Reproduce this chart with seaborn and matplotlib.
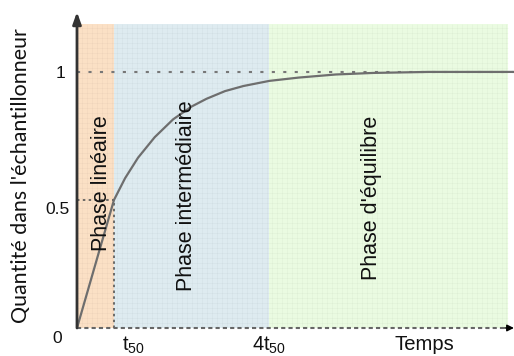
import matplotlib
matplotlib.use('Agg')
import matplotlib.pyplot as plt
import matplotlib.transforms as mtransforms
import seaborn as sns
import numpy as np

# Data (time in units where t50 = 1)
time = [0, 1.0, 1.3, 1.65, 2.1, 2.6, 3.1, 3.5, 4.0, 4.5, 5.2, 6.0, 7.0, 8.0, 9.5, 11.8]
quantity = [0, 0.5, 0.585, 0.665, 0.745, 0.815, 0.865, 0.895, 0.925, 0.945, 0.965, 0.978, 0.99, 0.996, 1.0, 1.0]
phase_edges = [0, 1.0, 5.2, 11.65]
phase_names = ['Phase linéaire', 'Phase intermédiaire', "Phase d'équilibre"]
phase_colors = ['#fbe0c5', '#deebf0', '#eafbe1']
xtick_pos = [1.0, 5.2]
xtick_labels = ['$t_{50}$', '$4t_{50}$']
ytick_pos = [0, 0.5, 1]
ytick_labels = ['0', '0.5', '1']

sns.set_style('white')
plt.rcParams['font.family'] = ['Liberation Sans', 'DejaVu Sans']
plt.rcParams['mathtext.default'] = 'regular'

fig = plt.figure(figsize=(5.14, 3.56), dpi=100)
ax = fig.add_axes([0.1498, 0.0787, 0.850, 0.8876])
xmax, ymax, shade_top = 11.81, 1.234, 1.1875
ax.set_xlim(0, xmax)
ax.set_ylim(0, ymax)
for s in ax.spines.values():
    s.set_visible(False)

# shaded phases
for i in range(len(phase_names)):
    ax.axvspan(phase_edges[i], phase_edges[i + 1], ymin=0, ymax=shade_top / ymax,
               color=phase_colors[i], lw=0, zorder=0)

# faint graph-paper grid inside the shaded area
ax.vlines(np.arange(0, phase_edges[-1], 0.135), 0, shade_top, color='k', alpha=0.035, lw=0.5, zorder=0.5)
ax.hlines(np.arange(0, shade_top, 0.0195), 0, phase_edges[-1], color='k', alpha=0.035, lw=0.5, zorder=0.5)

# reference lines
t50, half = xtick_pos[0], ytick_pos[1]
ax.axhline(1, ls=(0, (1.5, 4)), color='#777777', lw=1.5, zorder=1)
ax.hlines(half, 0, t50, ls=(0, (1.5, 2)), color='#555555', lw=1.2, zorder=1)
ax.vlines(t50, 0, half, ls=(0, (1.5, 2)), color='#555555', lw=1.2, zorder=1)

# curve
sns.lineplot(x=time, y=quantity, ax=ax, color='#6e6e6e', lw=1.6, zorder=3)

# axes with arrows
ax.plot([0, xmax], [0, 0], ls=(0, (2, 1.5)), color='#666666', lw=1.5, clip_on=False, zorder=2)
ax.annotate('', xy=(xmax, 0), xytext=(xmax - 0.25, 0), annotation_clip=False,
            arrowprops=dict(arrowstyle='-|>,head_length=0.4,head_width=0.2', color='black',
                            lw=1, shrinkA=0, shrinkB=0))
ax.annotate('', xy=(0, ymax), xytext=(0, 0), annotation_clip=False,
            arrowprops=dict(arrowstyle='-|>,head_length=0.7,head_width=0.25', color='#333333',
                            lw=2, shrinkA=0, shrinkB=0), zorder=4)

# phase labels
label_x = [0.65, 2.97, 7.97]
label_y = [0.564, 0.516, 0.508]
for name, lx, ly in zip(phase_names, label_x, label_y):
    ax.text(lx, ly, name, rotation=90, ha='center', va='center', fontsize=15.5, color='#111111', zorder=4)

# ticks
ax.set_xticks(xtick_pos, xtick_labels, fontsize=14.5)
ax.set_yticks(ytick_pos, ytick_labels, fontsize=12.5)
ax.tick_params(axis='x', length=0, pad=5, colors='#111111')
ax.tick_params(axis='y', length=0, pad=5, colors='#111111')

def shift(label, dx, dy):
    label.set_transform(label.get_transform() + mtransforms.ScaledTranslation(dx / 100, dy / 100, fig.dpi_scale_trans))

xl = ax.get_xticklabels()
shift(xl[0], 19, 0)
yl = ax.get_yticklabels()
shift(yl[0], -8, -9)
shift(yl[1], 0, -8)
shift(yl[2], -5, 0)

ax.set_xlabel('Temps', fontsize=14.6, color='#111111')
ax.xaxis.set_label_coords(0.796, -0.022)
ax.set_ylabel("Quantité dans l'échantillonneur", family=['Lato', 'DejaVu Sans'], fontsize=15.4, color='#111111')
ax.yaxis.set_label_coords(-0.105, 0.482)

fig.savefig('out.png', dpi=100)
